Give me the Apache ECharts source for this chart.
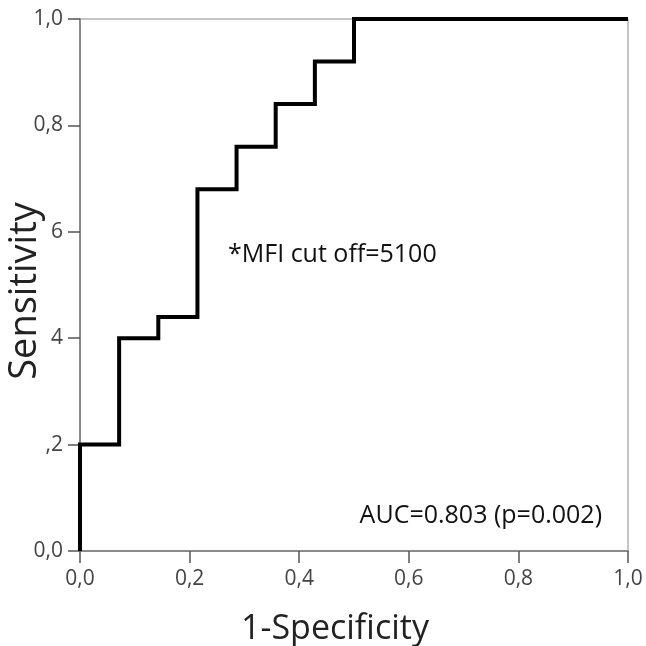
<!DOCTYPE html>
<html>
<head>
<meta charset="utf-8">
<script src="https://cdn.jsdelivr.net/npm/echarts@6/dist/echarts.min.js"></script>
<style>
  html, body { margin: 0; padding: 0; background: #fff; }
  #chart { width: 646px; height: 646px; }
</style>
</head>
<body>
<div id="chart"></div>
<script>
// ROC curve corner points (1-specificity, sensitivity)
var fpr = [0, 0, 0.0714, 0.0714, 0.1429, 0.1429, 0.2143, 0.2143, 0.2857, 0.2857, 0.3571, 0.3571, 0.4286, 0.4286, 0.5, 0.5, 1.0];
var tpr = [0, 0.2, 0.2, 0.4, 0.4, 0.44, 0.44, 0.68, 0.68, 0.76, 0.76, 0.84, 0.84, 0.92, 0.92, 1.0, 1.0];

var xTickLabels = ['0,0', '0,2', '0,4', '0,6', '0,8', '1,0'];
var yTickLabels = ['0,0', ',2', '4', '6', '0,8', '1,0'];

var annotation = '*MFI cut off=5100';
var aucText = 'AUC=0.803 (p=0.002)';

var font = '"Open Sans", "Noto Sans", sans-serif';

var chart = echarts.init(document.getElementById('chart'));

var points = fpr.map(function(x, i) { return [x, tpr[i]]; });

var option = {
    animation: false,
    backgroundColor: '#fff',
    grid: {
        left: 80, right: 18, top: 19, bottom: 95,
        containLabel: false, outerBoundsMode: 'none',
        show: true, borderColor: '#8a8a8a', borderWidth: 1
    },
    xAxis: {
        type: 'value', min: 0, max: 1, interval: 0.2,
        name: '1-Specificity', nameLocation: 'middle', nameGap: 61, nameMoveOverlap: false,
        nameTextStyle: { fontSize: 34, color: '#222', fontFamily: font, padding: [0, 38, 0, 0] },
        axisLine: { show: true, onZero: false, lineStyle: { color: '#777', width: 1.5 } },
        axisTick: { show: true, inside: false, length: 12, lineStyle: { color: '#555', width: 1.5 } },
        axisLabel: {
            margin: 18, fontSize: 21, color: '#444', fontFamily: font,
            formatter: function(v) { return xTickLabels[Math.round(v / 0.2)]; }
        },
        splitLine: { show: false }
    },
    yAxis: {
        type: 'value', min: 0, max: 1, interval: 0.2,
        name: 'Sensitivity', nameLocation: 'middle', nameGap: 36, nameMoveOverlap: false,
        nameTextStyle: { fontSize: 38, color: '#222', fontFamily: font, padding: [0, 12, 0, 0] },
        axisLine: { show: true, onZero: false, lineStyle: { color: '#777', width: 1.5 } },
        axisTick: { show: true, inside: false, length: 12, lineStyle: { color: '#555', width: 1.5 } },
        axisLabel: {
            margin: 17, fontSize: 21, color: '#444', fontFamily: font,
            formatter: function(v) { return yTickLabels[Math.round(v / 0.2)]; }
        },
        splitLine: { show: false }
    },
    series: [{
        type: 'line',
        data: points,
        symbol: 'none',
        lineStyle: { color: '#000', width: 4, join: 'miter' },
        z: 3
    }],
    graphic: [
        {
            type: 'text', left: 228, top: 242,
            style: { text: annotation, fontSize: 25, fill: '#111', fontFamily: font }
        },
        {
            type: 'text', right: 44, top: 503,
            style: { text: aucText, fontSize: 25, fill: '#111', fontFamily: font }
        }
    ]
};

chart.setOption(option);
</script>
</body>
</html>
